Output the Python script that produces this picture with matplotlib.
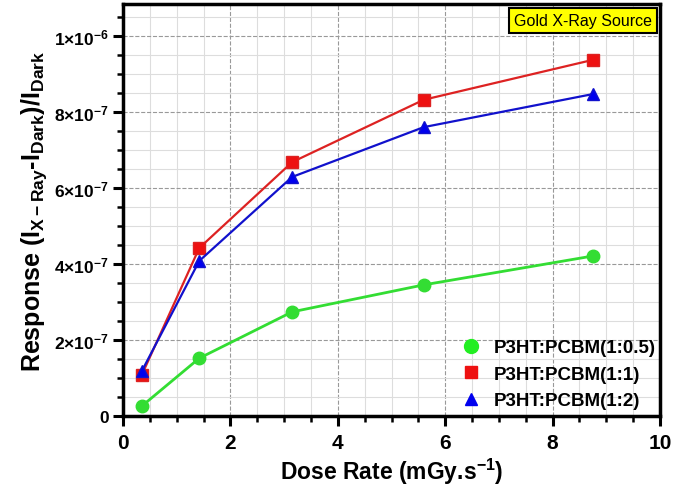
import math
import matplotlib
matplotlib.use('Agg')
import matplotlib.pyplot as plt
from matplotlib.ticker import MultipleLocator, FuncFormatter

plt.rcParams['font.family'] = 'Liberation Sans'
plt.rcParams['font.weight'] = 'bold'
plt.rcParams['mathtext.fontset'] = 'custom'
plt.rcParams['mathtext.rm'] = 'Liberation Sans:bold'
plt.rcParams['mathtext.it'] = 'Liberation Sans:bold'
plt.rcParams['mathtext.bf'] = 'Liberation Sans:bold'

# dose rate (mGy/s)
dose = [0.35, 1.42, 3.15, 5.6, 8.75]
# response for each blend ratio
resp_05 = [2.6e-8, 1.52e-7, 2.74e-7, 3.45e-7, 4.21e-7]
resp_1 = [1.08e-7, 4.42e-7, 6.68e-7, 8.32e-7, 9.37e-7]
resp_2 = [1.18e-7, 4.08e-7, 6.29e-7, 7.6e-7, 8.47e-7]
labels = ['P3HT:PCBM(1:0.5)', 'P3HT:PCBM(1:1)', 'P3HT:PCBM(1:2)']

fig = plt.figure(figsize=(6.97, 4.89), dpi=100)
ax = fig.add_axes([123 / 697, 1 - 417 / 489, 537 / 697, 412 / 489])

ax.plot(dose, resp_05, color='#33dd33', marker='o', markersize=9, lw=2, zorder=3)
ax.plot(dose, resp_1, color='#dd2222', marker='s', markersize=9, lw=1.6,
        markerfacecolor='#ee1111', zorder=4)
ax.plot(dose, resp_2, color='#1111cc', marker='^', markersize=8, lw=1.6,
        markerfacecolor='#0000ee', zorder=5)

# legend: markers only
h1, = ax.plot([], [], ls='none', marker='o', color='#22ee22', markersize=10)
h2, = ax.plot([], [], ls='none', marker='s', color='#ee1111', markersize=9)
h3, = ax.plot([], [], ls='none', marker='^', color='#0000ee', markersize=9)
ax.legend([h1, h2, h3], labels, loc='lower right', frameon=False,
          fontsize=13.5, handletextpad=0.2, labelspacing=0.5,
          bbox_to_anchor=(1.023, -0.025))

ax.set_xlim(0, 10)
ax.set_ylim(0, 1.084e-6)
ax.xaxis.set_major_locator(MultipleLocator(2))
ax.xaxis.set_minor_locator(MultipleLocator(0.5))
ax.yaxis.set_major_locator(MultipleLocator(2e-7))
ax.yaxis.set_minor_locator(MultipleLocator(5e-8))


def fmt_y(v, pos):
    if v <= 1e-12:
        return '0'
    exp = math.floor(math.log10(v) + 1e-9)
    m = v / 10 ** exp
    return r'$%d{\times}10^{%d}$' % (round(m), exp)


ax.yaxis.set_major_formatter(FuncFormatter(fmt_y))

ax.grid(which='major', color='#999999', ls='--', lw=0.8)
ax.grid(which='minor', color='#dddddd', ls='-', lw=0.8)
ax.set_axisbelow(True)

for s in ax.spines.values():
    s.set_linewidth(2.5)
ax.tick_params(which='major', direction='out', length=7, width=2.2)
ax.tick_params(which='minor', direction='out', length=4, width=1.8)
ax.tick_params(axis='x', labelsize=15, pad=5)
ax.tick_params(axis='y', labelsize=12.5, pad=3)

ax.set_xlabel(r'Dose Rate (mGy.s$^{-1}$)', fontsize=16.5, fontweight='bold',
              labelpad=3)
ax.set_ylabel(r'Response (I$_{X-Ray}$-I$_{Dark}$)/I$_{Dark}$',
              fontsize=18, fontweight='bold', labelpad=4)

ax.text(0.985, 0.978, 'Gold X-Ray Source', transform=ax.transAxes,
        ha='right', va='top', fontsize=11.5, fontweight='normal',
        bbox=dict(boxstyle='square,pad=0.3', facecolor='#ffff00',
                  edgecolor='black', linewidth=1.5))

plt.savefig('out.png', dpi=100)
plt.close()
